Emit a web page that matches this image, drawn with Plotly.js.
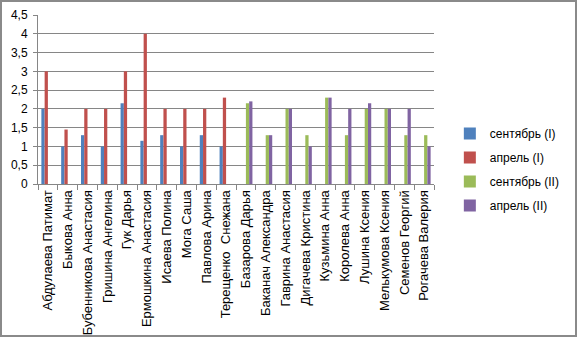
<!DOCTYPE html>
<html>
<head>
<meta charset="utf-8">
<script src="https://cdn.plot.ly/plotly-3.0.1.min.js"></script>
<style>
html,body{margin:0;padding:0;background:#fff;}
#wrap{position:relative;width:577px;height:337px;}
#chart{width:577px;height:337px;}
#frame{position:absolute;left:0;top:0;width:577px;height:337px;box-sizing:border-box;border:2px solid #8a8a8a;pointer-events:none;}
</style>
</head>
<body>
<div id="wrap"><div id="chart"></div><div id="frame"></div></div>
<script>
const categories = [
  "Абдулаева Патимат","Быкова Анна","Бубенникова Анастасия","Гришина Ангелина","Гук Дарья",
  "Ермошкина Анастасия","Исаева Полина","Мога Саша","Павлова Арина","Терещенко\u00a0 Снежана",
  "Базарова Дарья","Баканач Александра","Гаврина Анастасия","Дигачева Кристина","Кузьмина Анна",
  "Королева Анна","Лушина Ксения","Мелькумова Ксения","Семенов Георгий","Рогачева Валерия"
];
const sepI = [2, 1, 1.3, 1, 2.15, 1.15, 1.3, 1, 1.3, 1, null, null, null, null, null, null, null, null, null, null];
const aprI = [3, 1.45, 2, 2, 3, 4, 2, 2, 2, 2.3, null, null, null, null, null, null, null, null, null, null];
const sepII = [null, null, null, null, null, null, null, null, null, null, 2.15, 1.3, 2, 1.3, 2.3, 1.3, 2, 2, 1.3, 1.3];
const aprII = [null, null, null, null, null, null, null, null, null, null, 2.2, 1.3, 2, 1, 2.3, 2, 2.15, 2, 2, 1];
const seriesNames = ["сентябрь (I)", "апрель (I)", "сентябрь (II)", "апрель (II)"];
const seriesColors = ["#4F81BD", "#C0504D", "#9BBB59", "#8064A2"];
const seriesData = [sepI, aprI, sepII, aprII];

const traces = seriesData.map((vals, i) => ({
  type: "bar",
  name: seriesNames[i],
  x: categories,
  y: vals,
  legendgroup: "g" + i,
  marker: {color: seriesColors[i], line: {width: 0}},
  hoverinfo: "x+y+name"
}));

const font = {family: "Liberation Sans, Arial, sans-serif", size: 12, color: "#000"};
const layout = {
  width: 577, height: 337,
  margin: {l: 38, r: 115, t: 15, b: 153},
  paper_bgcolor: "#fff", plot_bgcolor: "#fff",
  separators: ", ",
  font: font,
  barmode: "group",
  bargap: 0.34,
  bargroupgap: 0,
  showlegend: true,
  legend: {
    x: 1.04, xanchor: "left", y: 0.385, yanchor: "top",
    font: {family: font.family, size: 12, color: "#000"},
    tracegroupgap: 5,
    itemwidth: 30,
    bgcolor: "rgba(0,0,0,0)"
  },
  xaxis: {
    type: "category",
    tickangle: -90,
    tickfont: {family: font.family, size: 13, color: "#000"},
    showline: true, linecolor: "#868686", linewidth: 1,
    ticks: "outside", tickson: "boundaries", ticklen: 5, tickcolor: "#868686",
    showgrid: false, zeroline: false,
    fixedrange: true
  },
  yaxis: {
    range: [0, 4.5], dtick: 0.5, tick0: 0,
    tickfont: {family: font.family, size: 12, color: "#000"},
    showline: true, linecolor: "#868686", linewidth: 1,
    ticks: "outside", ticklen: 4, tickcolor: "#868686",
    ticklabelstandoff: 3,
    showgrid: true, gridcolor: "#868686", gridwidth: 1,
    zeroline: false,
    fixedrange: true
  }
};
Plotly.newPlot("chart", traces, layout, {displayModeBar: false, staticPlot: true});
</script>
</body>
</html>
